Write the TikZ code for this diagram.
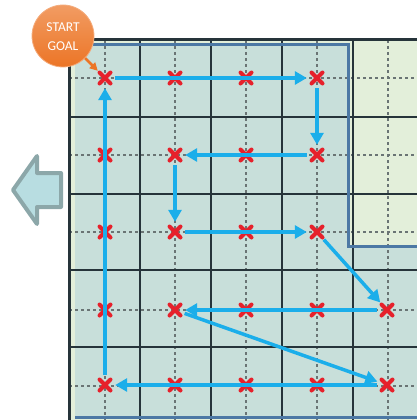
\documentclass[tikz,border=0pt]{standalone}
\usepackage{fontspec}
\setmainfont{Carlito}
\usetikzlibrary{arrows.meta}
\definecolor{gridgreen}{HTML}{E3EFDA}
\definecolor{regionteal}{HTML}{C8DFDA}
\definecolor{regionedge}{HTML}{4C78A4}
\definecolor{gridline}{HTML}{26343A}
\definecolor{dashgray}{HTML}{6A7474}
\definecolor{xred}{HTML}{E6212B}
\definecolor{flowcyan}{HTML}{1BAEEA}
\definecolor{sgorange}{HTML}{EC7526}
\definecolor{bigfill}{HTML}{B8DDE1}
\definecolor{bigedge}{HTML}{8CA7A9}
\begin{document}
\begin{tikzpicture}[x=1pt,y=-1pt,
  mk/.style={circle,inner sep=0pt,minimum size=20pt},
  xarm/.style={draw=xred,line width=4pt,line cap=round},
  flow/.style={draw=flowcyan,line width=3.5pt,-{Triangle[length=12pt,width=13pt]}},
  helper/.style={draw=dashgray,line width=1.1pt,dash pattern=on 3pt off 3pt},
  darkline/.style={draw=gridline,line width=2pt},
  badgetext/.style={text=white,font=\fontsize{13.5}{14}\selectfont,inner sep=0pt},
]
\useasboundingbox (0,0) rectangle (417,420);
\begin{scope}
\clip (0,0) rectangle (417,420);
\fill[gridgreen] (69,40) rectangle (440,440);
\fill[regionteal] (75,45) -- (348,45) -- (348,246) -- (440,246) -- (440,417) -- (75,417) -- cycle;
\foreach \x in {105,175,246,317,388} \draw[helper] (\x,40) -- (\x,440);
\foreach \y in {78,155,232,310,386} \draw[helper] (69,\y) -- (440,\y);
\foreach \x in {139.5,210.5,282,353} \draw[darkline] (\x,40) -- (\x,440);
\foreach \y in {117,193.5,270,347} \draw[darkline] (69,\y) -- (440,\y);
\draw[regionedge,line width=3pt] (75,45) -- (348,45) -- (348,246) -- (440,246) (440,417) -- (75,417) -- cycle;
\draw[gridline,line width=3pt] (69,440) -- (69,40) -- (440,40);
\end{scope}
% big left arrow
\draw[bigedge,fill=bigfill,line width=4pt,line join=round]
  (13,190) -- (37,156) -- (37,173) -- (61,173) -- (61,207) -- (37,207) -- (37,224) -- cycle;
% markers
\node[mk] (m11) at (105,78) {};
\node[mk] (m12) at (175,78) {};
\node[mk] (m13) at (246,78) {};
\node[mk] (m14) at (317,78) {};
\node[mk] (m21) at (105,155) {};
\node[mk] (m22) at (175,155) {};
\node[mk] (m23) at (246,155) {};
\node[mk] (m24) at (317,155) {};
\node[mk] (m31) at (105,232) {};
\node[mk] (m32) at (175,232) {};
\node[mk] (m33) at (246,232) {};
\node[mk] (m34) at (317,232) {};
\node[mk] (m41) at (105,310) {};
\node[mk] (m42) at (175,310) {};
\node[mk] (m43) at (246,310) {};
\node[mk] (m44) at (317,310) {};
\node[mk] (m45) at (387,310) {};
\node[mk] (m51) at (105,385) {};
\node[mk] (m52) at (175,385) {};
\node[mk] (m53) at (246,385) {};
\node[mk] (m54) at (317,385) {};
\node[mk] (m55) at (387,385) {};
\foreach \m in {m11,m12,m13,m14,m21,m22,m23,m24,m31,m32,m33,m34,m41,m42,m43,m44,m45,m51,m52,m53,m54,m55}{
  \draw[xarm] ([shift={(-5.5,-5.5)}]\m.center) -- ([shift={(5.5,5.5)}]\m.center);
  \draw[xarm] ([shift={(-5.5,5.5)}]\m.center) -- ([shift={(5.5,-5.5)}]\m.center);
}
% flow path
\draw[flow] (m11) -- (m14);
\draw[flow] (m14) -- (m24);
\draw[flow] (m24) -- (m22);
\draw[flow] (m22) -- (m32);
\draw[flow] (m32) -- (m34);
\draw[flow] (m34) -- (m45);
\draw[flow] (m45) -- (m42);
\draw[flow] (m42) -- (m55);
\draw[flow] (m55) -- (m51);
\draw[flow] (m51) -- (m11);
% start/goal badge
\node[circle,minimum size=62pt,inner sep=0pt,top color=sgorange!72!white,bottom color=sgorange,draw=sgorange!60!white,line width=0.8pt] (sg) at (63,36) {};
\node[badgetext] (st) at (63,27) {START};
\node[badgetext] (gl) at (63,46) {GOAL};
\draw[sgorange,line width=2.5pt,-{Triangle[length=8pt,width=8pt]}] (sg) -- (m11);
\end{tikzpicture}
\end{document}
